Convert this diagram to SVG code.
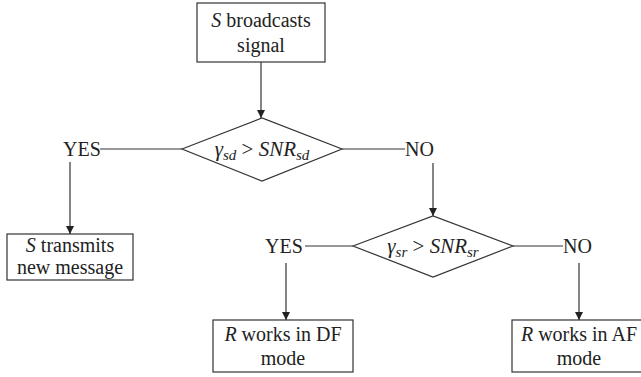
<svg xmlns="http://www.w3.org/2000/svg" width="641" height="377" viewBox="0 0 641 377">
<defs>
<marker id="ah" viewBox="0 0 8 10" refX="8" refY="5" markerWidth="8" markerHeight="10" markerUnits="userSpaceOnUse" orient="auto">
<path d="M0,1 L8,5 L0,9 z" fill="#222"/>
</marker>
<style>
.bx{fill:#fff;stroke:#333;stroke-width:1.2}
.ln{fill:none;stroke:#333;stroke-width:1.2}
.ar{fill:none;stroke:#333;stroke-width:1.2;marker-end:url(#ah)}
.c{text-anchor:middle}
.i{font-style:italic}
.d{font-size:21px}
.sub{font-size:15px;font-style:italic}
</style>
</defs>
<g id="connectors">
<line class="ar" x1="261" y1="62" x2="261" y2="118"/>
<line class="ln" x1="100" y1="149" x2="182" y2="149"/>
<line class="ar" x1="70" y1="162" x2="70" y2="234"/>
<line class="ln" x1="342" y1="149" x2="405" y2="149"/>
<line class="ar" x1="433" y1="163" x2="433" y2="216"/>
<line class="ln" x1="305" y1="246" x2="353" y2="246"/>
<line class="ar" x1="286" y1="263" x2="286" y2="320"/>
<line class="ln" x1="513" y1="246" x2="563" y2="246"/>
<line class="ar" x1="579" y1="263" x2="579" y2="320"/>
</g>
<g font-family="'Liberation Serif', 'Times New Roman', 'DejaVu Serif', serif" font-size="20" fill="#222">
<g id="start">
<rect class="bx" x="197" y="3" width="128" height="59"/>
<text class="c" x="261" y="27"><tspan class="i">S</tspan> broadcasts</text>
<text class="c" x="261" y="52">signal</text>
</g>
<g id="dec1">
<polygon class="bx" points="182,149 262,118 342,149 262,181"/>
<text class="c d" x="262" y="156"><tspan class="i">γ</tspan><tspan class="sub" dy="4">sd</tspan><tspan dy="-4"> &gt; </tspan><tspan class="i">SNR</tspan><tspan class="sub" dy="4">sd</tspan></text>
</g>
<g id="yes1"><text x="63" y="156">YES</text></g>
<g id="no1"><text x="405" y="156">NO</text></g>
<g id="transmit">
<rect class="bx" x="7" y="234" width="126" height="46"/>
<text class="c" x="70" y="252"><tspan class="i">S</tspan> transmits</text>
<text class="c" x="70" y="274">new message</text>
</g>
<g id="dec2">
<polygon class="bx" points="353,246 433,216 513,246 433,277"/>
<text class="c d" x="433" y="253"><tspan class="i">γ</tspan><tspan class="sub" dy="4">sr</tspan><tspan dy="-4"> &gt; </tspan><tspan class="i">SNR</tspan><tspan class="sub" dy="4">sr</tspan></text>
</g>
<g id="yes2"><text x="265" y="253">YES</text></g>
<g id="no2"><text x="563" y="253">NO</text></g>
<g id="df">
<rect class="bx" x="213" y="320" width="140" height="52"/>
<text class="c" x="283" y="341"><tspan class="i">R</tspan> works in DF</text>
<text class="c" x="283" y="365">mode</text>
</g>
<g id="af">
<rect class="bx" x="512" y="320" width="135" height="52"/>
<text class="c" x="579" y="341"><tspan class="i">R</tspan> works in AF</text>
<text class="c" x="579" y="365">mode</text>
</g>
</g>
</svg>
